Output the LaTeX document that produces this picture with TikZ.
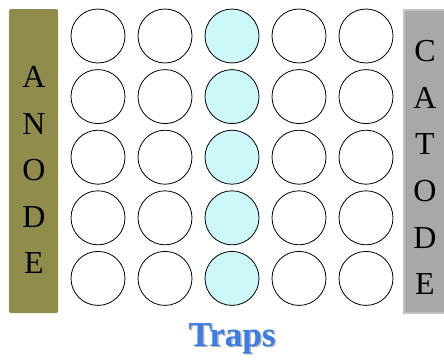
\documentclass[tikz,border=0pt]{standalone}
\usepackage{fontspec}
\setmainfont{Liberation Serif}
\definecolor{anodeOlive}{HTML}{8F8C4C}
\definecolor{catodeGray}{HTML}{A8A8A8}
\definecolor{catodeEdge}{HTML}{C2C2C2}
\definecolor{trapCyan}{HTML}{CCF8FA}
\definecolor{trapBlue}{HTML}{3A7CE8}

\begin{document}
\begin{tikzpicture}[
		x=1pt, y=-1pt,
		site/.style={
			circle, draw=black, line width=0.8pt, fill=white,
			minimum size=54pt, inner sep=0pt
		},
		trapsite/.style={site, fill=trapCyan},
		letter/.style={font=\fontsize{32}{32}\selectfont, anchor=base, inner sep=0pt},
		caption/.style={font=\fontsize{35}{35}\selectfont\bfseries, anchor=base, inner sep=0pt}
		]
		
		\useasboundingbox (0,0) rectangle (444,359);
		
		% electrodes
		\fill[anodeOlive, rounded corners=1.5pt] (9,9) rectangle (58,313);
		\draw[catodeEdge, line width=2pt, fill=catodeGray] (404,10) rectangle (447,313);
		
		\foreach \ch [count=\k] in {A,N,O,D,E}
		\node[letter] (anode\k) at (34, 41+46.5*\k) {\ch};
		\foreach \ch [count=\k] in {C,A,T,O,D,E}
		\node[letter] (catode\k) at (425, 15+46.6*\k) {\ch};
		
		% lattice sites, middle column holds the traps
		\foreach \r in {0,...,4}
		\foreach \c in {0,...,4}{
			\ifnum\c=2
			\node[trapsite] (s\r\c) at (98+67*\c, 36+60.6*\r) {};
			\else
			\node[site] (s\r\c) at (98+67*\c, 36+60.6*\r) {};
			\fi
		}
		
		\node[caption, text=black!30] (trapsShadow) at (233.5, 347.8) {Traps};
		\node[caption, text=trapBlue] (traps) at (232, 346) {Traps};
		
	\end{tikzpicture}
\end{document}
